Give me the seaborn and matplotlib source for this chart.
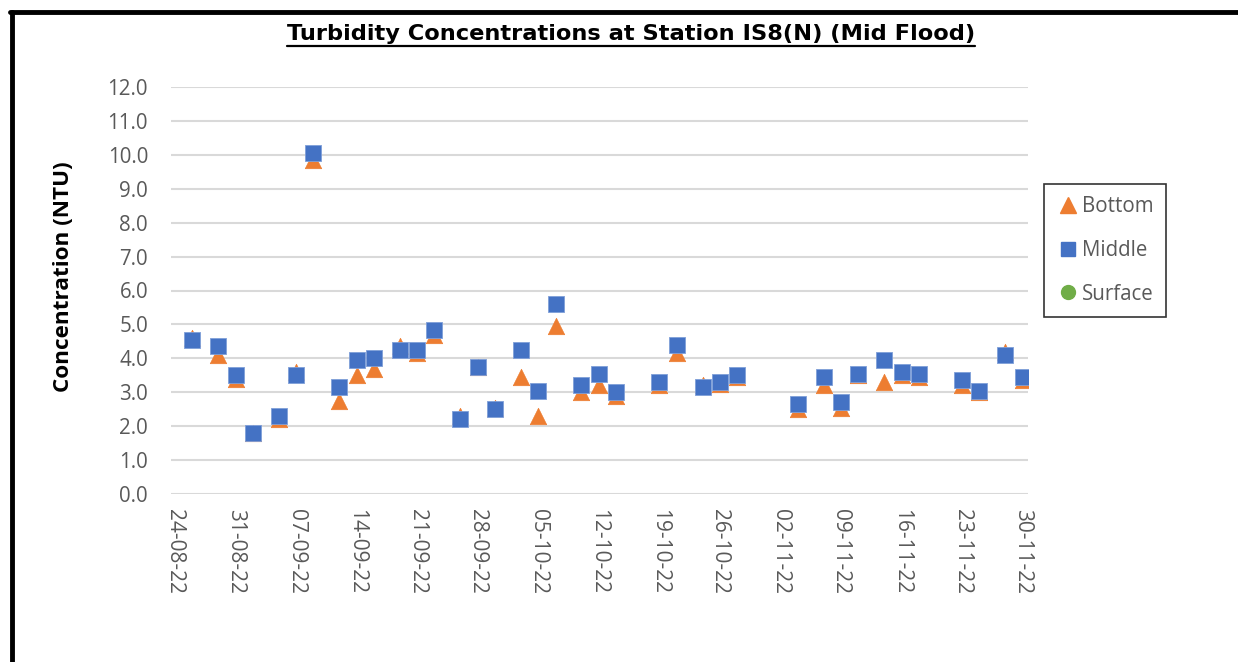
import matplotlib
matplotlib.use("Agg")
import matplotlib.pyplot as plt
import matplotlib.dates as mdates
from matplotlib.lines import Line2D
import numpy as np
import pandas as pd
import seaborn as sns

# Sampling dates (dd-mm-yy) and turbidity readings (NTU)
dates = ["26-08-22", "29-08-22", "31-08-22", "02-09-22", "05-09-22", "07-09-22",
         "09-09-22", "12-09-22", "14-09-22", "16-09-22", "19-09-22", "21-09-22",
         "23-09-22", "26-09-22", "28-09-22", "30-09-22", "03-10-22", "05-10-22",
         "07-10-22", "10-10-22", "12-10-22", "14-10-22", "19-10-22", "21-10-22",
         "24-10-22", "26-10-22", "28-10-22", "04-11-22", "07-11-22", "09-11-22",
         "11-11-22", "14-11-22", "16-11-22", "18-11-22", "23-11-22", "25-11-22",
         "28-11-22", "30-11-22"]
bottom = [4.6, 4.1, 3.4, 1.8, 2.2, 3.6, 9.85, 2.75, 3.5, 3.7, 4.35, 4.15,
          4.7, 2.3, 3.75, 2.55, 3.45, 2.3, 4.95, 3.0, 3.2, 2.9, 3.2, 4.15,
          3.2, 3.25, 3.45, 2.5, 3.2, 2.55, 3.5, 3.3, 3.5, 3.45, 3.2, 3.0,
          4.2, 3.35]
middle = [4.55, 4.35, 3.5, 1.8, 2.3, 3.5, 10.05, 3.15, 3.95, 4.0, 4.25, 4.25,
          4.85, 2.2, 3.75, 2.5, 4.25, 3.05, 5.6, 3.2, 3.55, 3.0, 3.3, 4.4,
          3.15, 3.3, 3.5, 2.65, 3.45, 2.7, 3.55, 3.95, 3.6, 3.55, 3.35, 3.05,
          4.1, 3.45]
surface = []  # no surface readings in this period

tick_dates = ["24-08-22", "31-08-22", "07-09-22", "14-09-22", "21-09-22",
              "28-09-22", "05-10-22", "12-10-22", "19-10-22", "26-10-22",
              "02-11-22", "09-11-22", "16-11-22", "23-11-22", "30-11-22"]

c_bottom = "#ED7D31"
c_middle = "#4472C4"
c_surface = "#70AD47"
txt_gray = "#595959"

sns.set_style("white")
plt.rcParams["font.family"] = ["Open Sans", "DejaVu Sans"]

df = pd.DataFrame({
    "date": pd.to_datetime(dates, format="%d-%m-%y"),
    "Bottom": bottom,
    "Middle": middle,
})
ticks = pd.to_datetime(tick_dates, format="%d-%m-%y")

W, H = 1238, 662
fig = plt.figure(figsize=(W / 100, H / 100), dpi=100)
ax = fig.add_axes([171 / W, 1 - 494 / H, (1028 - 171) / W, (494 - 87) / H])

sns.scatterplot(data=df, x="date", y="Bottom", ax=ax, marker="^", s=140,
                color=c_bottom, edgecolor=c_bottom, linewidth=0.5, zorder=3)
sns.scatterplot(data=df, x="date", y="Middle", ax=ax, marker="s", s=125,
                color=c_middle, edgecolor="#7F9FD8", linewidth=0.6, zorder=4)
ax.scatter(pd.to_datetime(surface), surface, color=c_surface, marker="o", zorder=5)

ax.set_ylim(0, 12)
ax.set_yticks(np.arange(0, 12.01, 1.0))
ax.yaxis.set_major_formatter(matplotlib.ticker.FormatStrFormatter("%.1f"))
ax.set_xlim(ticks[0] - pd.Timedelta(hours=11), ticks[-1] + pd.Timedelta(hours=15))
ax.set_xticks(ticks)
ax.xaxis.set_major_formatter(mdates.DateFormatter("%d-%m-%y"))
ax.grid(axis="y", color="#D9D9D9", linewidth=1.5)
ax.set_axisbelow(True)
for s in ax.spines.values():
    s.set_visible(False)
ax.tick_params(axis="y", length=0, pad=16.5, labelsize=14.8, labelcolor=txt_gray)
ax.tick_params(axis="x", length=0, pad=11, labelsize=15, labelcolor=txt_gray,
               labelrotation=-90)
for lbl in ax.get_xticklabels():
    lbl.set_horizontalalignment("center")
    lbl.set_verticalalignment("top")
ax.set_xlabel("")
ax.set_ylabel("Concentration (NTU)", fontsize=16.2, fontweight="bold", color="black")
ax.yaxis.set_label_coords(-0.1135, 0.533)

title = fig.text(0.5096, 1 - 40 / H, "Turbidity Concentrations at Station IS8(N) (Mid Flood)",
                 ha="center", va="baseline", fontsize=16.2, fontweight="bold",
                 color="black", family=["DejaVu Sans"])
# underline beneath the title, spanning the rendered text
fig.canvas.draw()
bb = title.get_window_extent(fig.canvas.get_renderer())
fig.add_artist(Line2D([bb.x0 / W, bb.x1 / W], [1 - 46 / H, 1 - 46 / H],
                      color="black", linewidth=1.6))

handles = [
    Line2D([], [], linestyle="none", marker="^", markersize=11, color=c_bottom),
    Line2D([], [], linestyle="none", marker="s", markersize=10, color=c_middle),
    Line2D([], [], linestyle="none", marker="o", markersize=10, color=c_surface),
]
leg = fig.legend(handles, ["Bottom", "Middle", "Surface"],
                 loc="upper left", bbox_to_anchor=(1044 / W, 1 - 184 / H),
                 frameon=True, fancybox=False, edgecolor="black",
                 fontsize=14.8, labelspacing=1.1, handletextpad=0.15,
                 handlelength=1.1, borderpad=0.6, borderaxespad=0)
leg.get_frame().set_linewidth(1.2)
for t in leg.get_texts():
    t.set_color(txt_gray)

# heavy frame on top and left
fig.add_artist(Line2D([10 / W, 1.0], [1 - 12 / H, 1 - 12 / H],
                      color="black", linewidth=3.5))
fig.add_artist(Line2D([12 / W, 12 / W], [0, 1 - 12 / H],
                      color="black", linewidth=3.5))

fig.savefig("out.png", dpi=100, facecolor="white")
